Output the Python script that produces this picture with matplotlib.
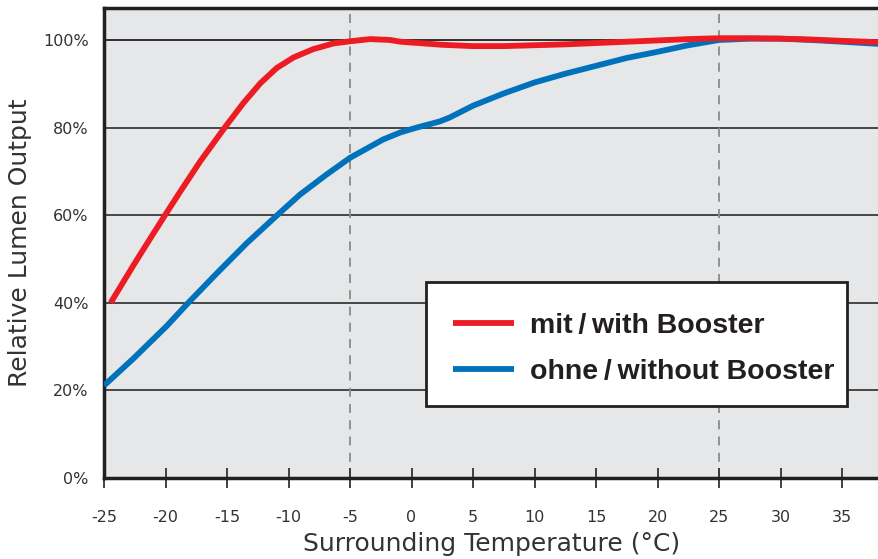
import matplotlib
matplotlib.use("Agg")
import matplotlib.pyplot as plt
from matplotlib.patches import Rectangle

# Data
temp_with = [-24.46, -22.62, -21.26, -20.04, -18.8, -17.2, -15.16, -13.67, -12.3, -10.96, -9.6, -8.0,
             -6.36, -5.0, -3.37, -1.75, -0.9, 2.5, 5, 7.5, 10, 12.5, 15, 17.5, 20, 22.5, 25, 27.5,
             30, 32.5, 35, 38]
lumen_with = [40.0, 48.5, 54.6, 60.0, 65.4, 72.2, 80.1, 85.6, 90.1, 93.6, 96.0, 97.9,
              99.2, 99.7, 100.2, 100.0, 99.6, 98.9, 98.6, 98.6, 98.8, 99.0, 99.3, 99.6, 99.9, 100.2, 100.4, 100.4,
              100.3, 100.1, 99.8, 99.5]

temp_without = [-25.0, -22.6, -19.9, -18.15, -15.84, -13.4, -10.96, -9.07, -6.9, -5.0, -2.3, -0.9, 0.42,
                2.3, 3.1, 5, 7.5, 10, 12.5, 15, 17.5, 20, 22.5, 25, 27.5, 30, 32.5, 35, 38]
lumen_without = [21.1, 27.3, 34.7, 40.0, 46.7, 53.6, 59.9, 64.7, 69.3, 73.1, 77.3, 78.9, 80.0,
                 81.4, 82.3, 85.0, 87.8, 90.3, 92.3, 94.1, 95.9, 97.3, 98.8, 100.0, 100.3, 100.3, 100.0, 99.6, 99.1]

x_ticks = [-25, -20, -15, -10, -5, 0, 5, 10, 15, 20, 25, 30, 35]
y_ticks = [0, 20, 40, 60, 80, 100]
y_labels = ["0%", "20%", "40%", "60%", "80%", "100%"]
dashed_x = [-5, 25]
label_with = "mit\u2009/\u2009with Booster"
label_without = "ohne\u2009/\u2009without Booster"

TXT = "#231f20"
plt.rcParams['font.family'] = ['DejaVu Sans']
plt.rcParams['axes.unicode_minus'] = False

fig = plt.figure(figsize=(8.79, 5.59), dpi=100)
ax = fig.add_axes([104/879, 1-478/559, 775/879, 470/559])
ax.set_facecolor("#e6e7e8")
ax.set_xlim(-25, 38)
ax.set_ylim(0, 107.3)

for y in y_ticks[1:]:
    ax.axhline(y, color="#3a3a3a" if y < 100 else "#231f20", lw=1.3, zorder=1)
for x in dashed_x:
    ax.axvline(x, color="#8a8a8a", lw=1.3, ls=(0, (5, 4)), zorder=1)

ax.plot(temp_without, lumen_without, color="#0072bc", lw=4.2, solid_capstyle="butt",
        solid_joinstyle="round", zorder=3, label=label_without)
ax.plot(temp_with, lumen_with, color="#ed1c24", lw=4.2, solid_capstyle="butt",
        solid_joinstyle="round", zorder=4, label=label_with)

ax.set_xticks(x_ticks)
ax.set_yticks(y_ticks)
ax.set_yticklabels(y_labels)
ax.tick_params(axis="x", direction="inout", length=14, width=1.3, color="#333333",
               labelsize=11.5, labelcolor="#333333", pad=16)
ax.tick_params(axis="y", length=0, labelsize=11.5, labelcolor="#333333", pad=11)

for s in ["left", "bottom", "top"]:
    ax.spines[s].set_linewidth(2.5)
    ax.spines[s].set_color(TXT)
ax.spines["right"].set_visible(False)

ax.set_xlabel("Surrounding Temperature (\u00b0C)", fontsize=18, color="#333333", labelpad=5)
ax.set_ylabel("Relative Lumen Output", fontsize=18, color="#333333", labelpad=8)

# legend box
box = Rectangle((0.4155, 0.1532), 0.9587 - 0.4155, 0.417 - 0.1532, transform=ax.transAxes,
                facecolor="white", edgecolor=TXT, lw=2, zorder=9)
ax.add_patch(box)

handles, labels = ax.get_legend_handles_labels()
leg = ax.legend(handles[::-1], labels[::-1], loc="upper left",
                bbox_to_anchor=(0.4323, 0.381), frameon=False,
                prop={"family": ["Liberation Sans", "DejaVu Sans"], "weight": "bold", "size": 20.5},
                handlelength=2.14, handletextpad=0.56, borderpad=0.5, labelspacing=0.69,
                borderaxespad=0)
for t in leg.get_texts():
    t.set_color(TXT)
leg.set_zorder(10)

fig.savefig("out.png", dpi=100)
